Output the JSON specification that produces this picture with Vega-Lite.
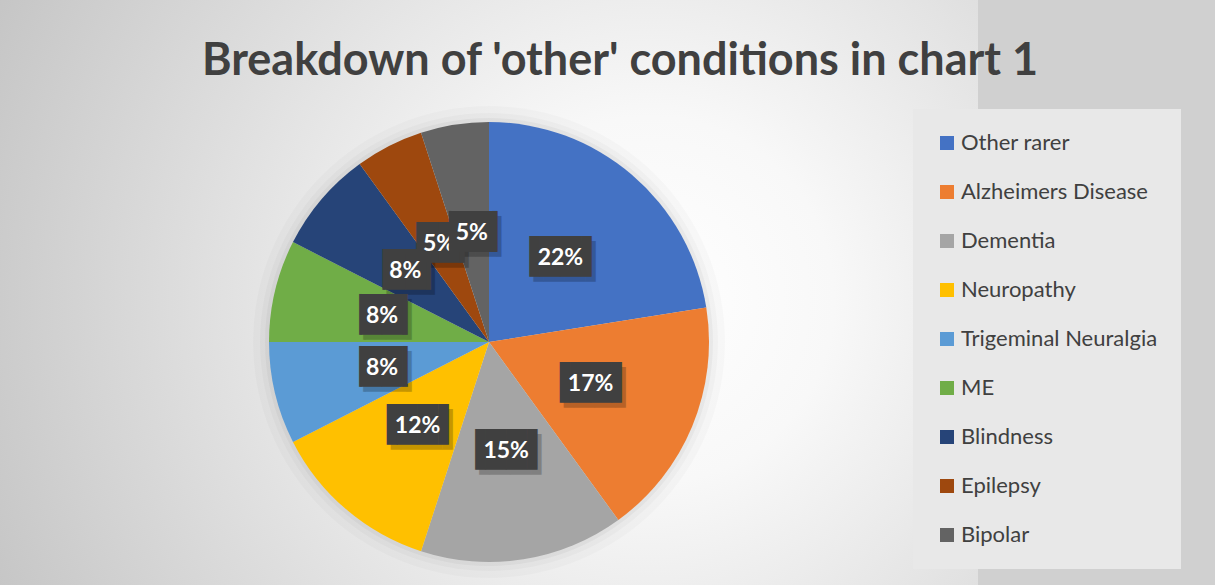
{
  "$schema": "https://vega.github.io/schema/vega-lite/v6.json",
  "width": 978,
  "height": 684,
  "autosize": {"type": "none"},
  "padding": {"left": 0, "top": 0, "right": 237, "bottom": 0},
  "background": "#d0d0d0",
  "title": {
    "text": "Breakdown of 'other' conditions in chart 1",
    "anchor": "middle",
    "frame": "group",
    "orient": "top",
    "offset": 0,
    "dx": 131,
    "dy": 120,
    "baseline": "alphabetic",
    "font": "Lato",
    "fontSize": 45,
    "fontWeight": "bold",
    "color": "#404040"
  },
  "data": {
    "values": [
      {"category": "Other rarer", "value": 22.5, "label": "22%"},
      {"category": "Alzheimers Disease", "value": 17.5, "label": "17%"},
      {"category": "Dementia", "value": 15, "label": "15%"},
      {"category": "Neuropathy", "value": 12.5, "label": "12%"},
      {"category": "Trigeminal Neuralgia", "value": 7.5, "label": "8%"},
      {"category": "ME", "value": 7.5, "label": "8%"},
      {"category": "Blindness", "value": 7.5, "label": "8%"},
      {"category": "Epilepsy", "value": 5, "label": "5%"},
      {"category": "Bipolar", "value": 5, "label": "5%"}
    ]
  },
  "layer": [
    {
      "data": {"values": [{}]},
      "mark": {
        "type": "rect",
        "fill": {
          "gradient": "radial",
          "x1": 0.665, "y1": 0.457, "r1": 0,
          "x2": 0.665, "y2": 0.457, "r2": 0.75,
          "stops": [
            {"offset": 0, "color": "#ffffff"},
            {"offset": 0.25, "color": "#f8f8f8"},
            {"offset": 1, "color": "#c4c4c4"}
          ]
        }
      },
      "encoding": {}
    },
    {
      "data": {"values": [{}]},
      "mark": {"type": "arc", "outerRadius": 236, "fill": "#000000", "opacity": 0.02},
      "encoding": {}
    },
    {
      "data": {"values": [{}]},
      "mark": {"type": "arc", "outerRadius": 229, "fill": "#000000", "opacity": 0.025},
      "encoding": {}
    },
    {
      "data": {"values": [{}]},
      "mark": {"type": "arc", "outerRadius": 224, "fill": "#000000", "opacity": 0.035},
      "encoding": {}
    },
    {
      "mark": {"type": "arc", "outerRadius": 220},
      "encoding": {
        "theta": {"field": "value", "type": "quantitative", "stack": true},
        "order": {"field": "value", "sort": "descending"},
        "color": {
          "field": "category",
          "type": "nominal",
          "sort": ["Other rarer", "Alzheimers Disease", "Dementia", "Neuropathy", "Trigeminal Neuralgia", "ME", "Blindness", "Epilepsy", "Bipolar"],
          "scale": {
            "domain": ["Other rarer", "Alzheimers Disease", "Dementia", "Neuropathy", "Trigeminal Neuralgia", "ME", "Blindness", "Epilepsy", "Bipolar"],
            "range": ["#4472C4", "#ED7D31", "#A5A5A5", "#FFC000", "#5B9BD5", "#70AD47", "#264478", "#9E480E", "#636363"]
          },
          "legend": {
            "orient": "none",
            "legendX": 913,
            "legendY": 109,
            "title": null,
            "symbolType": "square",
            "symbolSize": 196,
            "symbolStrokeWidth": 0,
            "labelFont": "Lato",
            "labelFontSize": 22,
            "labelColor": "#404040",
            "labelOffset": 3,
            "labelLimit": 300,
            "rowPadding": 27,
            "padding": 23,
            "fillColor": "#e8e8e8"
          }
        }
      }
    },
    {
      "mark": {"type": "text", "radius": 110, "font": "DejaVu Sans Mono", "fontSize": 34.4, "baseline": "middle", "align": "center", "dx": 4, "dy": 5, "fill": "#000000", "opacity": 0.22},
      "encoding": {
        "theta": {"field": "value", "type": "quantitative", "stack": true},
        "order": {"field": "value", "sort": "descending"},
        "detail": {"field": "category", "type": "nominal"},
        "text": {"condition": {"test": "length(datum.label) > 2", "value": "▐██▌"}, "value": "▕██▎"}
      }
    },
    {
      "mark": {"type": "text", "radius": 110, "font": "DejaVu Sans Mono", "fontSize": 34.4, "baseline": "middle", "align": "center", "fill": "#404040"},
      "encoding": {
        "theta": {"field": "value", "type": "quantitative", "stack": true},
        "order": {"field": "value", "sort": "descending"},
        "detail": {"field": "category", "type": "nominal"},
        "text": {"condition": {"test": "length(datum.label) > 2", "value": "▐██▌"}, "value": "▕██▎"}
      }
    },
    {
      "mark": {"type": "text", "radius": 110, "font": "Lato", "fontSize": 23, "fontWeight": "bold", "baseline": "middle", "align": "center", "fill": "#ffffff"},
      "encoding": {
        "theta": {"field": "value", "type": "quantitative", "stack": true},
        "order": {"field": "value", "sort": "descending"},
        "detail": {"field": "category", "type": "nominal"},
        "text": {"field": "label", "type": "nominal"}
      }
    },
    {
      "mark": {"type": "text", "radius": 110, "font": "DejaVu Sans Mono", "fontSize": 34.4, "baseline": "middle", "align": "center", "fill": "#404040"},
      "encoding": {
        "theta": {"field": "value", "type": "quantitative", "stack": true},
        "order": {"field": "value", "sort": "descending"},
        "detail": {"field": "category", "type": "nominal"},
        "opacity": {"condition": {"test": "datum.category === 'Bipolar'", "value": 1}, "value": 0},
        "text": {"condition": {"test": "length(datum.label) > 2", "value": "▐██▌"}, "value": "▕██▎"}
      }
    },
    {
      "mark": {"type": "text", "radius": 110, "font": "Lato", "fontSize": 23, "fontWeight": "bold", "baseline": "middle", "align": "center", "fill": "#ffffff"},
      "encoding": {
        "theta": {"field": "value", "type": "quantitative", "stack": true},
        "order": {"field": "value", "sort": "descending"},
        "detail": {"field": "category", "type": "nominal"},
        "opacity": {"condition": {"test": "datum.category === 'Bipolar'", "value": 1}, "value": 0},
        "text": {"field": "label", "type": "nominal"}
      }
    }
  ],
  "config": {"view": {"stroke": null}}
}
